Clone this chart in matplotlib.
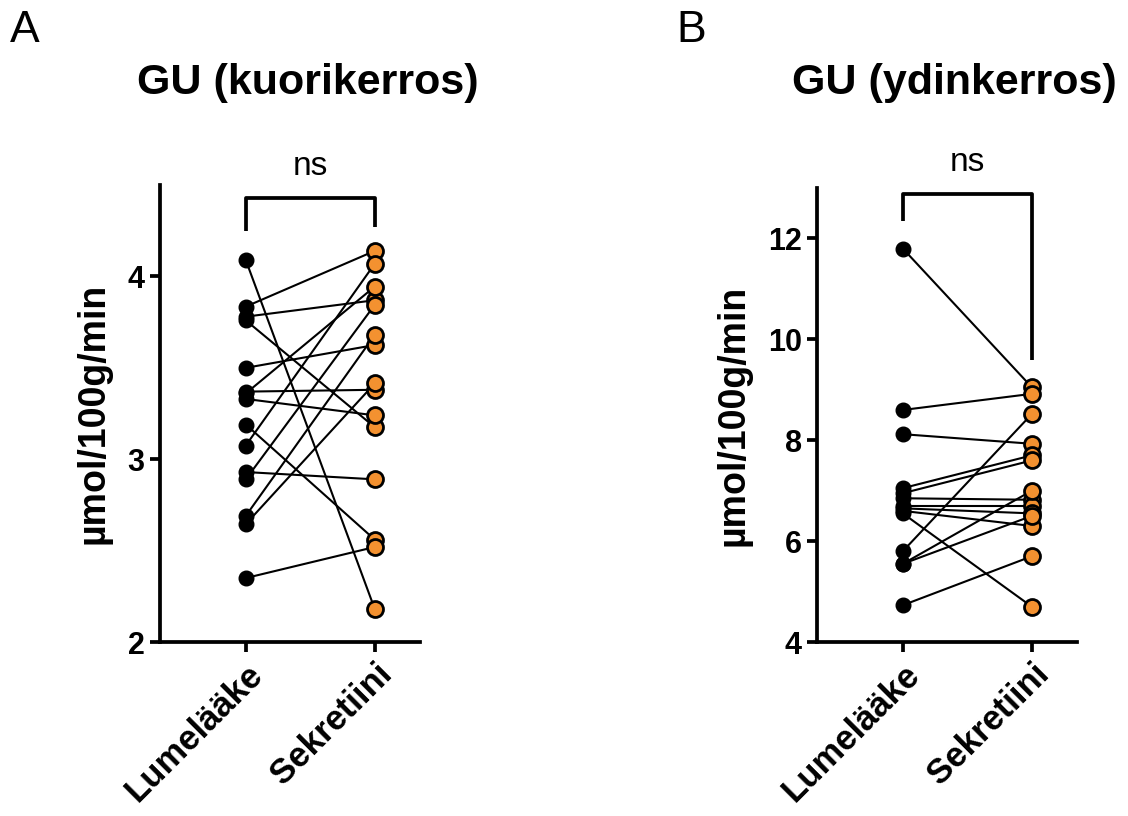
import matplotlib
matplotlib.use("Agg")
import matplotlib.pyplot as plt

plt.rcParams['font.family'] = ['Liberation Sans', 'DejaVu Sans']

groups = ["Lumelääke", "Sekretiini"]

# panel A: kuorikerros, paired values (placebo, secretin)
cortex_placebo = [4.09, 3.835, 3.78, 3.76, 3.50, 3.37, 3.36, 3.33, 3.19, 3.075, 2.93, 2.89, 2.69, 2.645, 2.35]
cortex_secretin = [2.18, 4.14, 3.87, 3.175, 3.625, 3.38, 3.945, 3.24, 2.56, 4.07, 2.89, 3.845, 3.68, 3.415, 2.52]

# panel B: ydinkerros
medulla_placebo = [11.80, 8.60, 8.12, 7.05, 6.95, 6.85, 6.70, 6.65, 6.60, 6.55, 5.80, 5.55, 5.55, 4.73]
medulla_secretin = [9.05, 8.92, 7.93, 7.70, 7.60, 6.82, 6.70, 6.55, 6.30, 4.70, 8.52, 7.00, 6.50, 5.70]

ORANGE = "#F39130"


def panel(ax, pre, post, ylim, yticks, bracket):
    for a, b in zip(pre, post):
        ax.plot([0, 1], [a, b], color="black", lw=1.5, zorder=2)
    ax.plot([0] * len(pre), pre, "o", color="black", ms=10.5, zorder=3)
    ax.plot([1] * len(post), post, "o", mfc=ORANGE, mec="black", mew=2.0, ms=11.5, zorder=4)

    ax.set_xlim(-0.665, 1.35)
    ax.set_ylim(*ylim)
    ax.set_yticks(yticks)
    ax.set_yticklabels([str(t) for t in yticks], fontsize=22, fontweight="bold")
    ax.set_xticks([0, 1])
    ax.set_xticklabels(groups, rotation=45, ha="right", rotation_mode="anchor",
                       fontsize=25, fontweight="bold")
    for s in ["top", "right"]:
        ax.spines[s].set_visible(False)
    for s in ["left", "bottom"]:
        ax.spines[s].set_linewidth(2.7)
    ax.tick_params(width=2.7, length=7, pad=4)
    ax.set_ylabel("µmol/100g/min", fontsize=27, fontweight="bold", labelpad=12)

    top, l_end, r_end = bracket
    ax.plot([0, 0, 1, 1], [l_end, top, top, r_end], color="black", lw=2.7,
            solid_capstyle="butt", clip_on=False)
    ax.text(0.5, top + (ylim[1] - ylim[0]) * 0.035, "ns", ha="center", va="bottom",
            fontsize=24, clip_on=False)


fig = plt.figure(figsize=(11.28, 8.16), dpi=100)
axA = fig.add_axes([0.1418, 0.2132, 0.2305, 0.5600])
axB = fig.add_axes([0.7243, 0.2132, 0.2305, 0.5564])

panel(axA, cortex_placebo, cortex_secretin, (2, 4.5), [2, 3, 4], (4.43, 4.25, 4.27))
panel(axB, medulla_placebo, medulla_secretin, (4, 13), [4, 6, 8, 10, 12], (12.88, 12.35, 9.6))

fig.text(0.009, 0.963, "A", fontsize=32, ha="left", va="center")
fig.text(0.600, 0.963, "B", fontsize=32, ha="left", va="center")
fig.text(0.273, 0.898, "GU (kuorikerros)", fontsize=31, fontweight="bold", ha="center", va="center")
fig.text(0.846, 0.898, "GU (ydinkerros)", fontsize=31, fontweight="bold", ha="center", va="center")

fig.savefig("out.png", dpi=100)
